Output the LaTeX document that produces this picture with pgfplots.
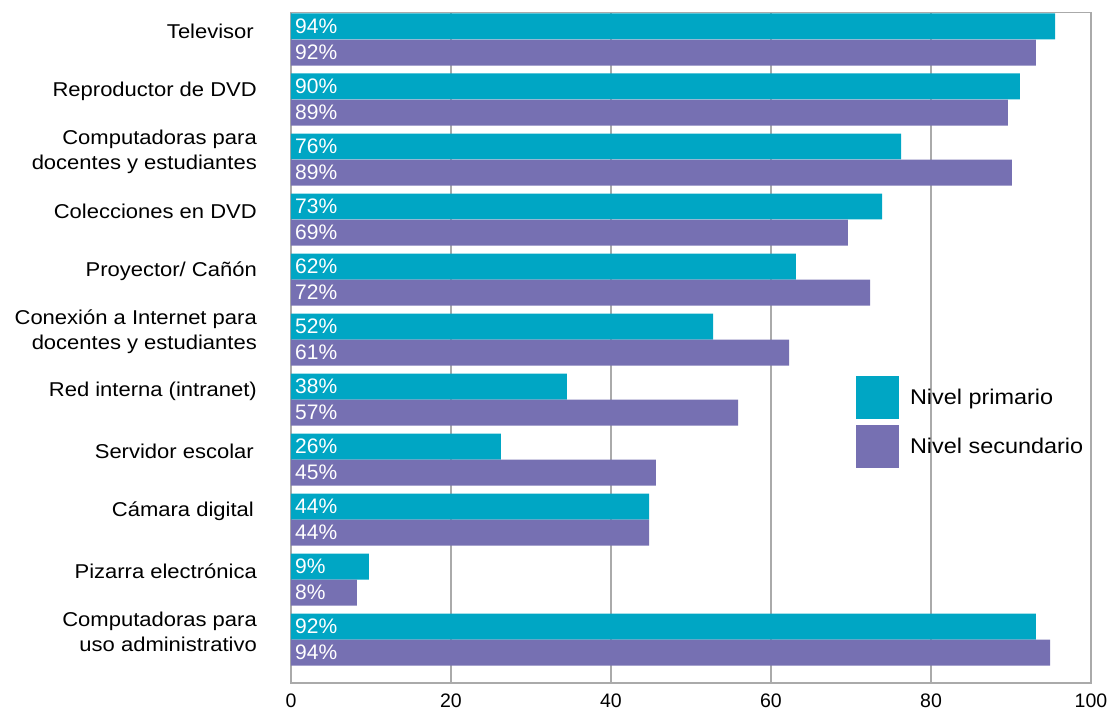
\documentclass[border=0pt]{standalone}
\usepackage{pgfplots}
\usepackage{pgfplotstable}
\pgfplotsset{compat=1.18}
\usepackage{fontspec}
\setmainfont{Liberation Sans}[FakeStretch=1.1]
\newfontfamily\plainfont{Liberation Sans}
\definecolor{tealc}{RGB}{0,166,196}
\definecolor{purpc}{RGB}{118,112,178}
\definecolor{gridc}{RGB}{170,170,170}
\pgfplotstableread{
y prim sec lp ls
0 95.5 93.1 94 92
1 91.1 89.6 90 89
2 76.25 90.1 76 89
3 73.9 69.6 73 69
4 63.1 72.4 62 72
5 52.75 62.25 52 61
6 34.5 55.9 38 57
7 26.25 45.6 26 45
8 44.75 44.75 44 44
9 9.75 8.25 9 8
10 93.1 94.9 92 94
}\data
\begin{document}
\begin{tikzpicture}
\begin{axis}[
  name=ax,
  scale only axis,
  width=800bp, height=670.5bp,
  xmin=0, xmax=100,
  ymin=-0.45, ymax=10.725,
  y dir=reverse,
  xtick={0,20,40,60,80,100},
  ytick={0,...,10},
  yticklabels={Televisor\hspace{3bp}, Reproductor de DVD, {Computadoras para\\docentes y estudiantes}, Colecciones en DVD, Proyector/ Cañón, {Conexión a Internet para\\docentes y estudiantes}, Red interna (intranet), Servidor escolar\hspace{3bp}, Cámara digital\hspace{3bp}, Pizarra electrónica, {Computadoras para\\uso administrativo}},
  major tick length=0pt,
  xmajorgrids,
  major grid style={draw=gridc, line width=1.2bp},
  axis line style={draw=gridc, line width=1.2bp},
  /pgf/number format/assume math mode=true,
  xticklabel style={inner sep=0pt, yshift=-10.5bp, font=\plainfont\fontsize{19.5bp}{24bp}\selectfont},
  yticklabel style={inner sep=0pt, xshift=-34bp, yshift=8bp, align=right, font=\fontsize{20bp}{25bp}\selectfont},
  legend style={at={(0.70625,0.4579)}, anchor=north west, draw=none, fill=none,
    inner sep=0pt, outer sep=0pt,
    font=\fontsize{21.3bp}{25bp}\selectfont, row sep=6bp,
    nodes={inner sep=0pt}},
  legend cell align=left,
  legend image code/.code={\fill[#1] (0bp,-21.5bp) rectangle (43bp,21.5bp);},
  clip=false,
]
\addplot[xbar, bar width=0.4333, bar shift=-0.2167, fill=tealc, draw=none] table[x=prim, y=y] {\data};
\addlegendentry{\hspace{11bp}Nivel primario}
\addplot[xbar, bar width=0.4333, bar shift=0.2167, fill=purpc, draw=none] table[x=sec, y=y] {\data};
\addlegendentry{\hspace{11bp}Nivel secundario}
\addplot[forget plot, draw=none, mark=none, point meta=explicit,
  nodes near coords={\pgfmathprintnumber[fixed,precision=0]{\pgfplotspointmeta}\%},
  nodes near coords style={anchor=west, text=white, inner sep=0pt, xshift=4bp, font=\plainfont\fontsize{21bp}{25bp}\selectfont}]
  table[x expr=0, y expr=\thisrow{y}-0.2167, meta=lp] {\data};
\addplot[forget plot, draw=none, mark=none, point meta=explicit,
  nodes near coords={\pgfmathprintnumber[fixed,precision=0]{\pgfplotspointmeta}\%},
  nodes near coords style={anchor=west, text=white, inner sep=0pt, xshift=4bp, font=\plainfont\fontsize{21bp}{25bp}\selectfont}]
  table[x expr=0, y expr=\thisrow{y}+0.2167, meta=ls] {\data};
\end{axis}
\pgfresetboundingbox
\path[use as bounding box] ([xshift=-291bp, yshift=-27bp]ax.south west) rectangle ([xshift=19bp, yshift=12.5bp]ax.north east);
\end{tikzpicture}
\end{document}
